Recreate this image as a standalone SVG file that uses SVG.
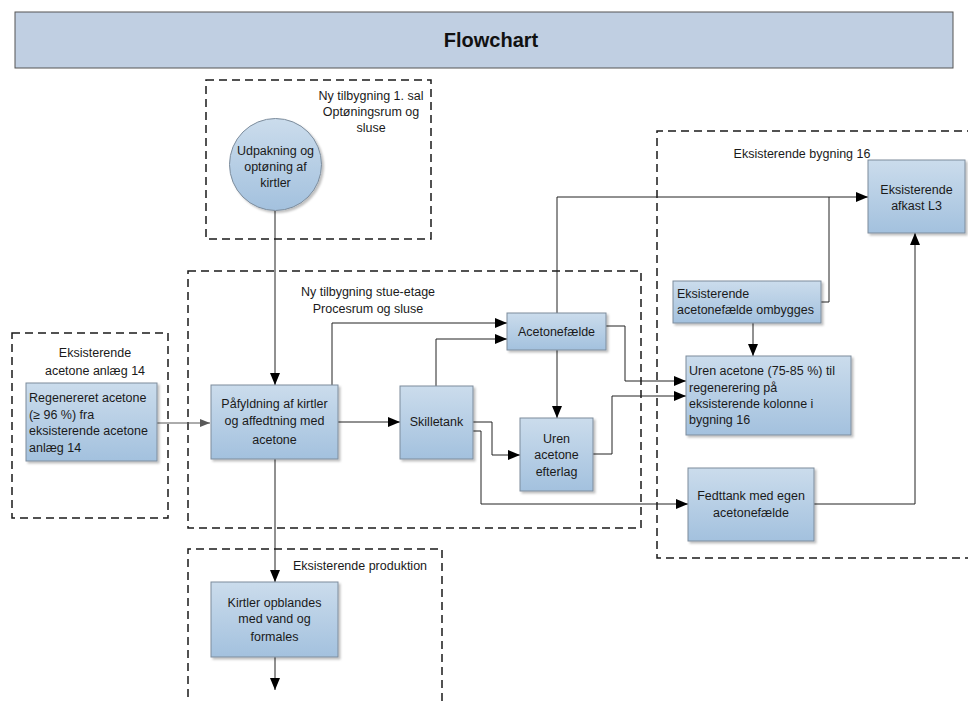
<svg xmlns="http://www.w3.org/2000/svg" width="968" height="702" viewBox="0 0 968 702">
<defs>
<linearGradient id="g" x1="0" y1="0" x2="0" y2="1">
<stop offset="0" stop-color="#cbdcec"/>
<stop offset="1" stop-color="#a3c1de"/>
</linearGradient>
<filter id="sh" x="-10%" y="-10%" width="130%" height="130%">
<feDropShadow dx="2" dy="2" stdDeviation="1.2" flood-color="#000" flood-opacity="0.25"/>
</filter>
<marker id="ah" viewBox="0 0 12 10" refX="12" refY="5" markerWidth="12" markerHeight="10" markerUnits="userSpaceOnUse" orient="auto">
<path d="M0,0 L12,5 L0,10 Z" fill="#000"/>
</marker>
<marker id="ahg" viewBox="0 0 10 8" refX="10" refY="4" markerWidth="10" markerHeight="8" markerUnits="userSpaceOnUse" orient="auto">
<path d="M0,0 L10,4 L0,8 Z" fill="#595959"/>
</marker>
</defs>
<style>
.t{font-family:"Liberation Sans",Arial,sans-serif;font-size:12.5px;fill:#1a1a1a}
.c{text-anchor:middle}
.n{fill:url(#g);stroke:#7c8c9c;stroke-width:1;filter:url(#sh)}
.z{fill:none;stroke:#1a1a1a;stroke-width:1.5;stroke-dasharray:8,5}
.e{fill:none;stroke:#222;stroke-width:1}
.a{marker-end:url(#ah)}
</style>
<rect width="968" height="702" fill="#fff"/>
<g id="title">
<rect x="15" y="12" width="938" height="56" fill="#c0cfe2" stroke="#555" stroke-width="1"/>
<text x="491" y="47" text-anchor="middle" style="font-family:'Liberation Sans',Arial,sans-serif;font-size:20px;font-weight:bold;fill:#111">Flowchart</text>
</g>
<g id="zones">
<g id="zone-top">
<rect class="z" x="206" y="80" width="225" height="159"/>
<text class="t c" x="371" y="100">Ny tilbygning 1. sal</text>
<text class="t c" x="371" y="116">Optøningsrum og</text>
<text class="t c" x="371" y="132">sluse</text>
</g>
<g id="zone-left">
<rect class="z" x="12" y="333" width="156" height="185"/>
<text class="t c" x="95" y="357">Eksisterende</text>
<text class="t c" x="95" y="375">acetone anlæg 14</text>
</g>
<g id="zone-mid">
<rect class="z" x="188" y="271" width="453" height="257"/>
<text class="t c" x="368" y="296">Ny tilbygning stue-etage</text>
<text class="t c" x="368" y="313">Procesrum og sluse</text>
</g>
<g id="zone-right">
<path class="z" d="M975,131 H657 V558 H975"/>
<text class="t c" x="802" y="158">Eksisterende bygning 16</text>
</g>
<g id="zone-bottom">
<path class="z" d="M188,710 V549 H442 V710"/>
<text class="t c" x="360" y="570">Eksisterende produktion</text>
</g>
</g>
<g id="connectors">
<path class="e a" d="M275,211 V385"/>
<path d="M157,423 H210" fill="none" stroke="#595959" stroke-width="1" marker-end="url(#ahg)"/>
<path class="e a" d="M332,385 V323 H507"/>
<path class="e a" d="M436,386 V339 H507"/>
<path class="e a" d="M338,422 H400"/>
<path class="e a" d="M473,422 H492 V455 H520"/>
<path class="e a" d="M473,431 H481 V504 H688"/>
<path class="e a" d="M557,350 V418"/>
<path class="e a" d="M557,313 V197 H868"/>
<path class="e" d="M821,302 H829 V197"/>
<path class="e a" d="M606,326 H625 V381 H686"/>
<path class="e a" d="M593,454 H612 V396 H686"/>
<path class="e a" d="M753,323 V356"/>
<path class="e a" d="M814,504 H915 V233"/>
<path class="e a" d="M275,459 V582"/>
<path class="e a" d="M275,657 V690"/>
</g>
<g id="n-udpakning">
<circle class="n" cx="275.5" cy="164.5" r="46"/>
<text class="t c" x="275.5" y="155">Udpakning og</text>
<text class="t c" x="275.5" y="171">optøning af</text>
<text class="t c" x="275.5" y="187">kirtler</text>
</g>
<g id="n-regenereret">
<rect class="n" x="26" y="383" width="131" height="78"/>
<text class="t" x="29" y="402">Regenereret acetone</text>
<text class="t" x="29" y="419">(≥ 96 %) fra</text>
<text class="t" x="29" y="435">eksisterende acetone</text>
<text class="t" x="29" y="452">anlæg 14</text>
</g>
<g id="n-pafyldning">
<rect class="n" x="211" y="385" width="127" height="74"/>
<text class="t c" x="274.5" y="408">Påfyldning af kirtler</text>
<text class="t c" x="274.5" y="425">og affedtning med</text>
<text class="t c" x="274.5" y="444">acetone</text>
</g>
<g id="n-skilletank">
<rect class="n" x="400" y="386" width="73" height="73"/>
<text class="t c" x="436.5" y="426">Skilletank</text>
</g>
<g id="n-acetonefaelde">
<rect class="n" x="507" y="313" width="99" height="37"/>
<text class="t c" x="556.5" y="336">Acetonefælde</text>
</g>
<g id="n-uren-efterlag">
<rect class="n" x="520" y="418" width="73" height="73"/>
<text class="t c" x="556.5" y="443">Uren</text>
<text class="t c" x="556.5" y="459">acetone</text>
<text class="t c" x="556.5" y="476">efterlag</text>
</g>
<g id="n-afkast">
<rect class="n" x="868" y="160" width="97" height="73"/>
<text class="t c" x="916.5" y="194">Eksisterende</text>
<text class="t c" x="916.5" y="210">afkast L3</text>
</g>
<g id="n-ombygges">
<rect class="n" x="673" y="281" width="148" height="42"/>
<text class="t" x="677" y="298">Eksisterende</text>
<text class="t" x="677" y="314">acetonefælde ombygges</text>
</g>
<g id="n-uren-regenerering">
<rect class="n" x="686" y="356" width="165" height="79"/>
<text class="t" x="689" y="375">Uren acetone (75-85 %) til</text>
<text class="t" x="689" y="392">regenerering på</text>
<text class="t" x="689" y="408">eksisterende kolonne i</text>
<text class="t" x="689" y="424">bygning 16</text>
</g>
<g id="n-fedttank">
<rect class="n" x="688" y="468" width="126" height="73"/>
<text class="t c" x="751" y="500">Fedttank med egen</text>
<text class="t c" x="751" y="517">acetonefælde</text>
</g>
<g id="n-kirtler">
<rect class="n" x="211" y="582" width="127" height="75"/>
<text class="t c" x="274.5" y="607">Kirtler opblandes</text>
<text class="t c" x="274.5" y="623">med vand og</text>
<text class="t c" x="274.5" y="641">formales</text>
</g>
</svg>
